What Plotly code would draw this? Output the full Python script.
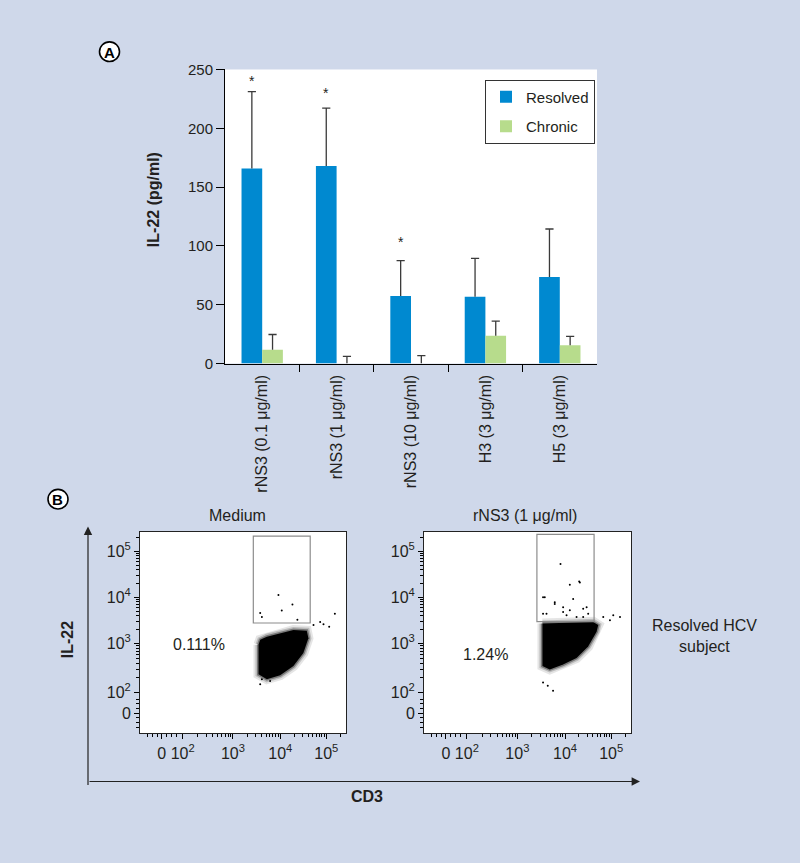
import numpy as np
import plotly.graph_objects as go

W, H = 800, 863


def px(x):
    return x / W


def py(y):
    return 1 - y / H


# ---------------- Panel A data ----------------
categories = ["rNS3 (0.1 μg/ml)", "rNS3 (1 μg/ml)", "rNS3 (10 μg/ml)", "H3 (3 μg/ml)", "H5 (3 μg/ml)"]
resolved_mean = [165.8, 168.0, 57.5, 56.7, 73.6]
resolved_err = [65.3, 49.2, 30.0, 32.7, 40.8]
chronic_mean = [11.7, 0.0, 0.0, 23.6, 15.6]
chronic_err = [13.0, 6.1, 6.7, 12.5, 7.5]
star_level = [242.5, 232.5, 105.6]          # asterisks above first three Resolved bars
y_ticks = [0, 50, 100, 150, 200, 250]

# ---------------- Panel B data (biexponential display units, decades) ----------------
medium_cloud_x = [3.539, 3.539, 3.716, 3.996, 4.276, 4.486, 4.592, 4.558, 4.276, 3.996, 3.716, 3.575]
medium_cloud_y = [2.994, 2.362, 2.257, 2.341, 2.537, 2.817, 3.133, 3.295, 3.309, 3.238, 3.168, 3.099]
medium_dots_x = [3.96, 4.255, 4.03, 3.575, 3.61, 4.36, 4.70, 4.91, 5.03, 5.15, 4.84, 3.575, 3.61, 3.785]
medium_dots_y = [4.06, 3.857, 3.73, 3.674, 3.59, 3.53, 3.415, 3.436, 3.38, 3.66, 3.484, 2.15, 2.257, 2.22]
medium_gate = [3.43, 4.63, 3.46, 5.32]      # x0, x1, y0, y1
medium_pct = "0.111%"

rns3_cloud_x = [3.526, 3.526, 3.68, 3.96, 4.242, 4.486, 4.663, 4.697, 4.592, 4.101, 3.68]
rns3_cloud_y = [3.448, 2.537, 2.467, 2.57, 2.71, 2.958, 3.274, 3.415, 3.484, 3.463, 3.448]
rns3_dots_x = [3.905, 4.101, 4.297, 3.539, 3.785, 3.96, 4.101, 4.171, 4.453, 3.539, 4.381, 4.032,
               4.802, 5.013, 5.154, 4.943, 3.539, 3.749, 3.638, 3.575, 3.785, 3.96, 4.312, 4.381,
               4.486, 3.611, 4.242]
rns3_dots_y = [4.726, 4.278, 4.347, 4.011, 3.869, 3.8, 3.731, 3.975, 3.8, 3.659, 3.589, 3.625,
               3.589, 3.625, 3.589, 3.52, 2.185, 2.011, 2.116, 4.011, 3.905, 3.695, 4.326, 3.764,
               3.659, 3.659, 3.589]
rns3_gate = [3.41, 4.61, 3.49, 5.36]
rns3_pct = "1.24%"

flow_tick_text = ["0", "10<sup>2</sup>", "10<sup>3</sup>", "10<sup>4</sup>", "10<sup>5</sup>"]
flow_x_major = [1.5, 1.94, 3.0, 4.0, 4.97]
flow_y_major = [1.53, 1.97, 3.02, 4.01, 5.0]


def minor_positions(major):
    out = []
    z = major[0]
    out += [z - 0.3, z - 0.2, z - 0.1, z + 0.1, z + 0.2, z + 0.3]
    logs = major[1:]
    for a, b in zip(logs[:-1], logs[1:]):
        for k in range(2, 10):
            out.append(a + np.log10(k) * (b - a))
    step = logs[-1] - logs[-2]
    for k in range(2, 4):
        out.append(logs[-1] + np.log10(k) * step)
    return out


TXT = "#231f20"
BLUE = "#0089d0"
GREEN = "#b7dc8c"

fig = go.Figure()

xi = list(range(len(categories)))
bar_gap = 0.444
bar_w = (1 - bar_gap) / 2
off = bar_w / 2
cap = 0.055

fig.add_trace(go.Bar(x=xi, y=resolved_mean, name="Resolved", marker=dict(color=BLUE, line=dict(width=0)),
                     legendgroup="r", xaxis="x", yaxis="y", hoverinfo="skip"))
fig.add_trace(go.Bar(x=xi, y=chronic_mean, name="Chronic", marker=dict(color=GREEN, line=dict(width=0)),
                     legendgroup="c", xaxis="x", yaxis="y", hoverinfo="skip"))


def err_path(centers, means, errs):
    xs, ys = [], []
    for c, m, e in zip(centers, means, errs):
        t = m + e
        xs += [c, c, None, c - cap, c + cap, None]
        ys += [m, t, None, t, t, None]
    return xs, ys


for centers, means, errs in [([i - off for i in xi], resolved_mean, resolved_err),
                             ([i + off for i in xi], chronic_mean, chronic_err)]:
    ex, ey = err_path(centers, means, errs)
    fig.add_trace(go.Scatter(x=ex, y=ey, mode="lines", line=dict(color="#3a3a3a", width=1.3),
                             showlegend=False, hoverinfo="skip", xaxis="x", yaxis="y"))

annotations = []
for i, s in enumerate(star_level):
    annotations.append(dict(x=i - off, y=s, xref="x", yref="y", text="*", showarrow=False,
                            xanchor="center", yanchor="middle",
                            font=dict(size=14, color=TXT), yshift=-3))

# ---------------- Panel B traces ----------------
for (cx, cy, dx, dy, xa, ya) in [(medium_cloud_x, medium_cloud_y, medium_dots_x, medium_dots_y, "x2", "y2"),
                                 (rns3_cloud_x, rns3_cloud_y, rns3_dots_x, rns3_dots_y, "x3", "y3")]:
    ring_x = cx + [cx[0]]
    ring_y = cy + [cy[0]]
    # soft, speckled edge of the dense event cloud
    for w, a in [(10, 0.10), (6, 0.18), (3, 0.35)]:
        fig.add_trace(go.Scatter(x=ring_x, y=ring_y, mode="lines",
                                 line=dict(color=f"rgba(0,0,0,{a})", width=w), showlegend=False,
                                 hoverinfo="skip", xaxis=xa, yaxis=ya))
    fig.add_trace(go.Scatter(x=ring_x, y=ring_y, mode="lines", fill="toself", fillcolor="black",
                             line=dict(color="rgba(0,0,0,0)", width=0), showlegend=False,
                             hoverinfo="skip", xaxis=xa, yaxis=ya))
    fig.add_trace(go.Scatter(x=dx, y=dy, mode="markers", marker=dict(color="black", size=2),
                             showlegend=False, hoverinfo="skip", xaxis=xa, yaxis=ya))

shapes = []
for g, xa, ya in [(medium_gate, "x2", "y2"), (rns3_gate, "x3", "y3")]:
    shapes.append(dict(type="rect", xref=xa, yref=ya, x0=g[0], x1=g[1], y0=g[2], y1=g[3],
                       line=dict(color="#8c8c8c", width=1.2)))

annotations.append(dict(x=2.28, y=2.99, xref="x2", yref="y2", text=medium_pct, showarrow=False,
                        xanchor="center", yanchor="middle", font=dict(size=16, color=TXT)))
annotations.append(dict(x=2.34, y=2.78, xref="x3", yref="y3", text=rns3_pct, showarrow=False,
                        xanchor="center", yanchor="middle", font=dict(size=16, color=TXT)))


def label(x, y, text, size=16, angle=0, color=TXT):
    return dict(x=px(x), y=py(y), xref="paper", yref="paper", text=text, textangle=angle,
                showarrow=False, xanchor="center", yanchor="middle", align="center",
                font=dict(size=size, color=color))


annotations += [
    label(153, 195, "<b>IL-22 (pg/ml)</b>", angle=-90),
    label(237, 517, "Medium"),
    label(525, 517, "rNS3 (1 μg/ml)"),
    label(704, 640, "Resolved HCV<br>subject"),
    label(67, 644, "<b>IL-22</b>", angle=-90),
    label(367, 803, "<b>CD3</b>"),
    # L-shaped axes with arrows
    dict(x=px(88), y=py(528), xref="paper", yref="paper", text="", showarrow=True, ax=0, ay=260,
         axref="pixel", ayref="pixel", arrowhead=2, arrowsize=1.4, arrowwidth=1.2, arrowcolor="#222"),
    dict(x=px(640), y=py(788), xref="paper", yref="paper", text="", showarrow=True, ax=-552, ay=0,
         axref="pixel", ayref="pixel", arrowhead=2, arrowsize=1.4, arrowwidth=1.2, arrowcolor="#222"),
]

for cx, cy, letter in [(109.5, 43.5, "A"), (58, 500, "B")]:
    shapes.append(dict(type="circle", xref="paper", yref="paper", layer="below",
                       x0=px(cx - 10), x1=px(cx + 10), y0=py(cy + 10), y1=py(cy - 10),
                       line=dict(color="black", width=1.6), fillcolor="white"))
    annotations.append(label(cx, cy + 0.5, f"<b>{letter}</b>", size=15, color="black"))

flow_axis_common = dict(ticks="outside", ticklen=5, tickcolor="black", showline=True, mirror=True,
                        linecolor="#222", linewidth=1, showgrid=False, zeroline=False,
                        tickfont=dict(size=16, color=TXT), tickmode="array", ticktext=flow_tick_text,
                        fixedrange=True)

fig.update_layout(
    width=W, height=H, margin=dict(l=0, r=0, t=0, b=0),
    paper_bgcolor="#cfd8ea", plot_bgcolor="white",
    font=dict(family="Liberation Sans, Arial, sans-serif", color=TXT, size=15),
    barmode="group", bargap=bar_gap, bargroupgap=0,
    legend=dict(x=px(485), y=py(72), xanchor="left", yanchor="top", bgcolor="white", bordercolor="#333",
                borderwidth=1, font=dict(size=15, color=TXT), tracegroupgap=7),
    xaxis=dict(domain=[px(225), px(597)], range=[-0.5, 4.5], tickmode="array", tickvals=xi,
               ticktext=categories, tickangle=-90, ticks="outside", ticklen=4,
               tickcolor="rgba(0,0,0,0)", tickfont=dict(size=16, color=TXT), showline=True,
               linecolor="black", linewidth=1, showgrid=False, zeroline=False, anchor="y",
               minor=dict(tickmode="array", tickvals=[i + 0.5 for i in xi[:-1]], ticks="outside",
                          ticklen=7, tickcolor="black", tickwidth=1, showgrid=False)),
    yaxis=dict(domain=[py(361.7), py(61.7)], range=[0, 250], tickmode="array", tickvals=y_ticks,
               ticks="outside", ticklen=8, tickcolor="black", showline=True, linecolor="black",
               linewidth=1, showgrid=False, zeroline=False, tickfont=dict(size=15, color=TXT), anchor="x"),
    xaxis2=dict(domain=[px(140), px(346)], range=[1.04, 5.385], tickvals=flow_x_major, anchor="y2",
                minor=dict(tickmode="array", tickvals=minor_positions(flow_x_major), ticks="outside",
                           ticklen=3, tickcolor="black", showgrid=False), **flow_axis_common),
    yaxis2=dict(domain=[py(739), py(533)], range=[1.095, 5.42], tickvals=flow_y_major, anchor="x2",
                minor=dict(tickmode="array", tickvals=minor_positions(flow_y_major), ticks="outside",
                           ticklen=3, tickcolor="black", showgrid=False), **flow_axis_common),
    xaxis3=dict(domain=[px(424), px(631)], range=[1.04, 5.385], tickvals=flow_x_major, anchor="y3",
                minor=dict(tickmode="array", tickvals=minor_positions(flow_x_major), ticks="outside",
                           ticklen=3, tickcolor="black", showgrid=False), **flow_axis_common),
    yaxis3=dict(domain=[py(739), py(533)], range=[1.095, 5.42], tickvals=flow_y_major, anchor="x3",
                minor=dict(tickmode="array", tickvals=minor_positions(flow_y_major), ticks="outside",
                           ticklen=3, tickcolor="black", showgrid=False), **flow_axis_common),
    shapes=shapes,
    annotations=annotations,
)

fig.write_html("out.html", config={"displayModeBar": False},
               post_script="document.body.style.margin='0';document.body.style.overflow='hidden';")
